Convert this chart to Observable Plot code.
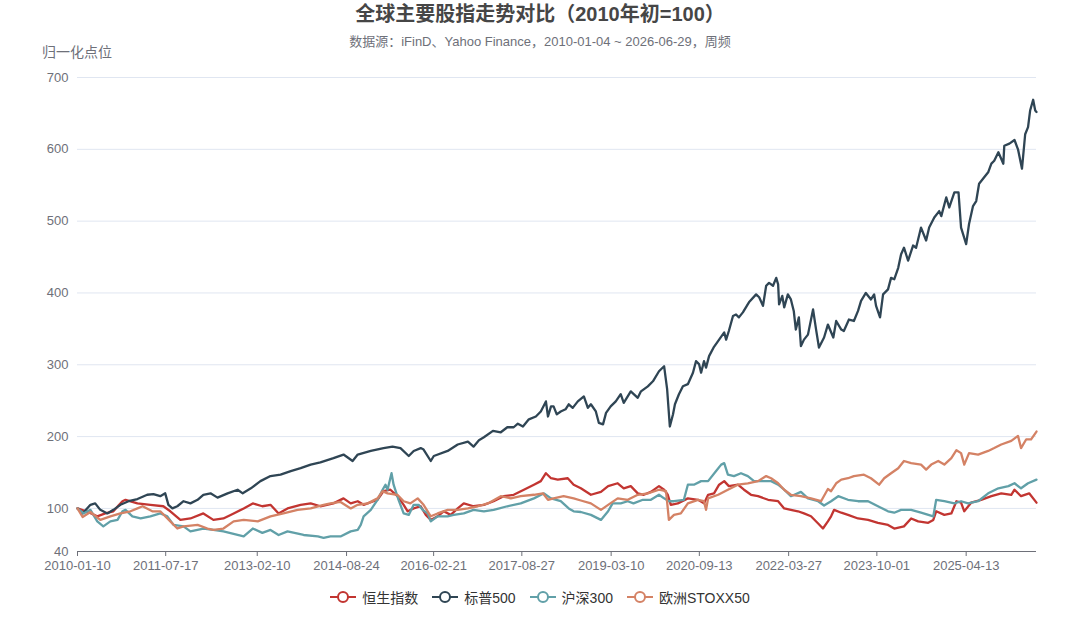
<!DOCTYPE html>
<html>
<head>
<meta charset="utf-8">
<script src="https://cdn.jsdelivr.net/npm/d3@7"></script>
<script src="https://cdn.jsdelivr.net/npm/@observablehq/plot@0.6"></script>
<style>
  html, body { margin: 0; padding: 0; background: #fff; }
  body { width: 1080px; height: 617px; position: relative; overflow: hidden;
         font-family: "Liberation Sans", "Noto Sans CJK SC", sans-serif; }
  #title { position: absolute; left: 0; width: 1080px; top: 1px; text-align: center;
           font-size: 20px; font-weight: bold; color: #464646; line-height: 26px; }
  #subtitle { position: absolute; left: 0; width: 1080px; top: 34px; text-align: center;
              font-size: 13px; color: #6e7079; line-height: 16px; }
  #yname { position: absolute; left: 27px; width: 100px; top: 43px; text-align: center;
           font-size: 14px; color: #6e7079; line-height: 18px; }
  #chart { position: absolute; left: 0; top: 0; }
  #legend { position: absolute; left: 0; width: 1080px; top: 587px; display: flex;
            justify-content: center; align-items: center; gap: 14px; font-size: 14px; color: #333; }
  .item { display: flex; align-items: center; }
  .item svg { margin-right: 6px; }
</style>
</head>
<body>
<div id="chart"></div>
<div id="title"></div>
<div id="subtitle"></div>
<div id="yname"></div>
<div id="legend"></div>
<script>
const titleText = "全球主要股指走势对比（2010年初=100）";
const subtitleText = "数据源：iFinD、Yahoo Finance，2010-01-04 ~ 2026-06-29，周频";
const yAxisName = "归一化点位";

const seriesNames = ["恒生指数", "标普500", "沪深300", "欧洲STOXX50"];
const seriesColors = ["#c23531", "#2f4554", "#61a0a8", "#d48265"];

const xTickLabels = ["2010-01-10","2011-07-17","2013-02-10","2014-08-24","2016-02-21","2017-08-27",
  "2019-03-10","2020-09-13","2022-03-27","2023-10-01","2025-04-13"];
const yTicks = [40, 100, 200, 300, 400, 500, 600, 700];
const xDomain = ["2010-01-10", "2026-06-28"];

const hsi = [
["2010-01-10",100],["2010-03-06",96],["2010-05-14",89],["2010-07-03",93],["2010-08-23",96],
["2010-09-24",104],["2010-10-19",110],["2010-11-07",112],["2011-01-21",107],["2011-04-12",105],
["2011-07-02",103],["2011-08-15",96],["2011-10-17",84],["2011-12-19",86],["2012-03-09",93],
["2012-05-11",84],["2012-07-13",86],["2012-09-15",93],["2012-11-17",100],["2013-01-13",107],
["2013-03-14",103],["2013-05-04",105],["2013-06-24",93],["2013-08-19",100],["2013-11-09",105],
["2014-01-11",107],["2014-03-13",103],["2014-06-03",107],["2014-08-05",114],["2014-09-19",107],
["2014-11-02",110],["2014-12-09",105],["2015-03-06",112],["2015-04-13",124],["2015-05-26",126],
["2015-07-09",117],["2015-08-17",105],["2015-09-11",96],["2015-10-19",100],["2015-12-02",103],
["2016-01-03",91],["2016-02-03",84],["2016-03-17",89],["2016-04-24",96],["2016-06-07",91],
["2016-07-21",100],["2016-08-28",107],["2016-10-28",103],["2017-01-01",105],["2017-03-03",110],
["2017-05-05",117],["2017-07-07",119],["2017-09-09",126],["2017-11-11",133],["2017-12-24",138],
["2018-01-25",149],["2018-02-26",142],["2018-04-09",140],["2018-06-11",142],["2018-07-18",133],
["2018-09-01",128],["2018-11-03",119],["2019-01-05",123],["2019-02-19",131],["2019-04-20",135],
["2019-05-28",128],["2019-07-11",131],["2019-08-24",121],["2019-10-01",119],["2019-11-14",123],
["2020-01-04",131],["2020-02-05",126],["2020-02-28",119],["2020-03-18",105],["2020-05-01",107],
["2020-07-03",114],["2020-09-05",112],["2020-10-12",107],["2020-11-07",119],["2020-12-14",121],
["2021-01-15",133],["2021-02-16",138],["2021-03-17",131],["2021-05-13",133],["2021-06-20",126],
["2021-08-03",119],["2021-09-16",117],["2021-11-18",112],["2022-01-20",110],["2022-02-27",100],
["2022-04-10",98],["2022-05-24",96],["2022-07-01",93],["2022-08-14",89],["2022-09-28",79],
["2022-10-28",72],["2022-11-28",82],["2022-12-18",89],["2023-01-06",98],["2023-02-20",94],
["2023-04-03",91],["2023-06-05",86],["2023-08-07",84],["2023-10-08",80],["2023-12-10",77],
["2024-01-18",72],["2024-03-19",75],["2024-05-03",86],["2024-06-16",82],["2024-08-18",80],
["2024-09-19",84],["2024-10-07",96],["2024-11-27",91],["2025-01-10",93],["2025-02-11",110],
["2025-03-12",108],["2025-04-01",96],["2025-05-14",108],["2025-07-16",112],["2025-09-18",117],
["2025-11-19",121],["2026-01-21",119],["2026-02-10",126],["2026-03-23",117],["2026-05-13",121],
["2026-06-28",108]
];

const spx = [
["2010-01-10",100],["2010-02-11",93],["2010-04-01",105],["2010-05-01",107],["2010-06-02",98],
["2010-07-16",93],["2010-08-23",98],["2010-10-06",105],["2010-11-26",110],["2011-01-21",113],
["2011-03-23",119],["2011-05-01",120],["2011-06-13",117],["2011-07-14",121],["2011-08-03",105],
["2011-08-28",100],["2011-09-28",103],["2011-11-06",110],["2011-12-19",107],["2012-02-02",112],
["2012-03-09",119],["2012-04-23",121],["2012-06-06",115],["2012-08-08",121],["2012-10-10",126],
["2012-11-11",121],["2013-01-01",128],["2013-03-02",138],["2013-05-04",145],["2013-07-06",147],
["2013-09-08",152],["2013-11-09",156],["2014-01-11",161],["2014-03-13",164],["2014-06-03",170],
["2014-08-05",175],["2014-10-01",166],["2014-11-02",175],["2015-01-23",180],["2015-04-13",184],
["2015-06-08",186],["2015-07-28",184],["2015-09-18",173],["2015-10-19",180],["2015-12-02",184],
["2015-12-20",182],["2016-02-03",166],["2016-02-22",173],["2016-05-19",180],["2016-07-21",189],
["2016-09-23",193],["2016-10-28",186],["2016-12-01",195],["2017-01-01",199],["2017-02-27",208],
["2017-04-17",206],["2017-05-28",213],["2017-07-07",213],["2017-08-02",218],["2017-09-03",214],
["2017-10-10",224],["2017-11-23",228],["2017-12-24",235],["2018-01-25",249],["2018-02-07",228],
["2018-02-26",242],["2018-03-14",242],["2018-04-03",231],["2018-04-28",235],["2018-05-28",238],
["2018-06-17",245],["2018-07-12",240],["2018-08-13",249],["2018-09-20",256],["2018-10-15",240],
["2018-11-03",245],["2018-12-04",235],["2018-12-23",219],["2019-01-18",217],["2019-02-06",233],
["2019-03-07",242],["2019-04-08",249],["2019-05-09",259],["2019-05-28",247],["2019-07-11",263],
["2019-08-24",254],["2019-09-13",263],["2019-10-26",270],["2019-11-27",277],["2020-01-04",291],
["2020-02-05",298],["2020-02-24",266],["2020-03-12",214],["2020-04-01",231],["2020-04-13",245],
["2020-05-08",259],["2020-06-02",270],["2020-07-03",273],["2020-08-04",289],["2020-08-23",305],
["2020-09-11",301],["2020-09-24",289],["2020-10-12",305],["2020-10-25",296],["2020-11-13",312],
["2020-12-14",325],["2021-01-15",335],["2021-02-16",345],["2021-02-28",335],["2021-03-17",347],
["2021-04-12",368],["2021-05-01",370],["2021-05-19",366],["2021-06-13",373],["2021-07-21",387],
["2021-09-04",398],["2021-09-23",394],["2021-10-17",382],["2021-11-06",410],["2021-11-24",414],
["2021-12-19",410],["2022-01-08",421],["2022-01-20",412],["2022-01-26",384],["2022-02-15",396],
["2022-02-27",380],["2022-03-22",398],["2022-04-10",391],["2022-04-28",375],["2022-05-11",349],
["2022-05-30",366],["2022-06-12",326],["2022-07-01",335],["2022-07-26",342],["2022-08-27",377],
["2022-09-15",349],["2022-10-03",324],["2022-11-04",338],["2022-11-28",356],["2023-01-01",338],
["2023-01-19",361],["2023-02-20",349],["2023-03-08",347],["2023-04-09",363],["2023-05-10",361],
["2023-06-05",375],["2023-06-24",389],["2023-07-24",400],["2023-08-25",391],["2023-09-14",398],
["2023-09-26",382],["2023-10-21",366],["2023-11-09",398],["2023-12-10",405],["2023-12-29",421],
["2024-01-18",419],["2024-02-12",435],["2024-03-01",454],["2024-03-19",463],["2024-04-14",445],
["2024-05-15",466],["2024-06-03",463],["2024-07-04",491],["2024-08-05",473],["2024-08-24",491],
["2024-09-25",505],["2024-10-26",514],["2024-11-08",507],["2024-12-09",533],["2024-12-28",519],
["2025-01-29",540],["2025-02-24",540],["2025-03-12",491],["2025-04-13",468],["2025-05-01",496],
["2025-05-26",521],["2025-06-15",528],["2025-07-03",552],["2025-08-04",561],["2025-08-29",568],
["2025-09-18",580],["2025-10-06",584],["2025-11-01",596],["2025-12-02",580],["2025-12-08",605],
["2026-01-09",608],["2026-02-10",613],["2026-03-04",600],["2026-03-29",573],["2026-04-18",621],
["2026-05-06",631],["2026-05-19",654],["2026-06-07",669],["2026-06-20",654],["2026-06-28",652]
];

const csi300 = [
["2010-01-10",100],["2010-02-17",93],["2010-04-01",98],["2010-05-14",82],["2010-06-21",75],
["2010-08-04",82],["2010-09-18",84],["2010-10-19",96],["2010-11-07",98],["2010-12-20",89],
["2011-02-10",86],["2011-04-12",89],["2011-06-13",93],["2011-07-27",89],["2011-09-04",77],
["2011-11-06",75],["2011-12-19",68],["2012-03-09",72],["2012-05-11",70],["2012-07-13",68],
["2012-10-10",63],["2012-11-17",61],["2013-01-13",72],["2013-03-14",66],["2013-05-04",70],
["2013-06-24",63],["2013-08-19",68],["2013-11-28",63],["2014-02-25",61],["2014-04-02",59],
["2014-05-15",61],["2014-07-17",61],["2014-09-19",68],["2014-11-02",70],["2014-11-21",77],
["2014-12-09",89],["2015-01-23",98],["2015-03-06",112],["2015-04-07",126],["2015-04-25",133],
["2015-05-08",126],["2015-06-02",149],["2015-06-15",133],["2015-07-16",112],["2015-08-17",93],
["2015-09-18",91],["2015-10-19",105],["2015-11-19",105],["2015-12-14",98],["2016-01-15",93],
["2016-02-03",82],["2016-03-17",89],["2016-05-19",89],["2016-06-26",91],["2016-08-28",93],
["2016-10-28",98],["2017-01-01",96],["2017-03-03",98],["2017-05-28",103],["2017-08-20",107],
["2017-11-11",114],["2018-01-13",121],["2018-02-26",114],["2018-04-28",110],["2018-06-17",100],
["2018-07-18",96],["2018-09-01",95],["2018-11-03",91],["2019-01-05",84],["2019-02-19",96],
["2019-03-19",107],["2019-05-09",107],["2019-06-22",110],["2019-07-28",107],["2019-09-25",112],
["2019-11-14",112],["2020-01-04",119],["2020-02-05",114],["2020-03-06",110],["2020-04-07",110],
["2020-06-08",112],["2020-07-03",133],["2020-08-10",133],["2020-09-24",138],["2020-11-07",138],
["2020-12-27",152],["2021-01-28",161],["2021-02-16",163],["2021-03-11",147],["2021-04-18",145],
["2021-06-01",149],["2021-07-14",145],["2021-08-22",138],["2021-10-05",138],["2021-12-07",138],
["2022-01-20",133],["2022-02-27",126],["2022-04-10",117],["2022-06-12",123],["2022-07-26",114],
["2022-09-28",110],["2022-11-04",104],["2022-12-18",110],["2023-02-01",117],["2023-04-03",112],
["2023-06-05",110],["2023-08-07",110],["2023-10-08",103],["2023-12-10",96],["2024-01-18",94],
["2024-03-01",98],["2024-05-03",98],["2024-07-04",94],["2024-09-19",89],["2024-10-07",112],
["2024-11-27",110],["2025-01-29",107],["2025-03-12",110],["2025-04-25",107],["2025-06-27",110],
["2025-08-29",121],["2025-11-01",128],["2026-01-03",131],["2026-02-10",135],["2026-03-23",128],
["2026-05-06",135],["2026-06-28",140]
];

const stoxx = [
["2010-01-10",100],["2010-02-11",88],["2010-04-01",95],["2010-06-02",84],["2010-08-04",89],
["2010-10-06",93],["2010-12-08",96],["2011-01-21",100],["2011-02-22",103],["2011-04-24",96],
["2011-06-13",96],["2011-08-15",82],["2011-09-28",72],["2011-11-06",75],["2012-02-02",77],
["2012-04-04",72],["2012-05-11",70],["2012-07-13",72],["2012-09-15",82],["2012-11-17",84],
["2013-02-13",82],["2013-05-04",89],["2013-07-24",93],["2013-10-21",98],["2014-01-11",100],
["2014-04-02",105],["2014-05-15",107],["2014-07-17",109],["2014-09-19",100],["2014-11-02",105],
["2015-01-04",107],["2015-03-06",114],["2015-04-07",124],["2015-05-08",121],["2015-07-09",119],
["2015-08-17",110],["2015-09-28",107],["2015-11-13",114],["2015-12-20",105],["2016-02-03",89],
["2016-03-17",93],["2016-05-19",98],["2016-07-21",98],["2016-09-23",100],["2016-11-24",103],
["2017-01-26",107],["2017-04-17",117],["2017-06-19",114],["2017-08-20",117],["2017-11-11",119],
["2018-01-06",121],["2018-02-07",112],["2018-03-14",114],["2018-05-16",117],["2018-07-18",114],
["2018-09-01",111],["2018-11-03",107],["2019-01-05",98],["2019-02-19",105],["2019-04-20",114],
["2019-06-22",112],["2019-08-24",119],["2019-10-26",121],["2020-01-04",126],["2020-02-17",124],
["2020-02-28",100],["2020-03-06",84],["2020-04-07",91],["2020-05-20",93],["2020-07-03",107],
["2020-09-05",112],["2020-10-12",110],["2020-10-25",98],["2020-11-07",114],["2021-01-09",119],
["2021-03-11",126],["2021-05-13",133],["2021-07-14",135],["2021-09-16",138],["2021-11-06",145],
["2021-12-07",142],["2022-01-20",135],["2022-02-27",126],["2022-04-10",119],["2022-06-12",117],
["2022-08-14",114],["2022-10-16",110],["2022-11-28",127],["2022-12-18",124],["2023-01-19",135],
["2023-02-20",140],["2023-04-03",142],["2023-05-10",145],["2023-07-12",147],["2023-08-25",142],
["2023-10-15",133],["2023-11-16",142],["2023-12-29",149],["2024-02-12",156],["2024-03-19",166],
["2024-05-03",163],["2024-07-04",161],["2024-08-05",154],["2024-09-06",161],["2024-10-20",166],
["2024-11-27",161],["2025-01-10",170],["2025-02-11",181],["2025-03-12",177],["2025-04-01",161],
["2025-05-01",177],["2025-06-27",175],["2025-08-29",180],["2025-10-06",184],["2025-11-19",189],
["2026-01-21",194],["2026-03-04",201],["2026-03-23",184],["2026-04-24",196],["2026-05-25",196],
["2026-06-28",207]
];

const parse = d3.utcParse("%Y-%m-%d");
const allSeries = [hsi, spx, csi300, stoxx];
const rows = allSeries.flatMap((s, i) => s.map(([d, v]) => ({date: parse(d), value: v, name: seriesNames[i]})));
const font = '"Liberation Sans", "Noto Sans CJK SC", sans-serif';

const chart = Plot.plot({
  width: 1080,
  height: 586,
  marginTop: 77,
  marginBottom: 35,
  marginLeft: 77,
  marginRight: 44,
  style: {fontFamily: font, fontSize: "13px", color: "#6e7079", background: "#fff"},
  x: {type: "utc", domain: xDomain.map(parse)},
  y: {domain: [40, 700]},
  color: {domain: seriesNames, range: seriesColors},
  marks: [
    Plot.gridY(yTicks.filter(t => t > 40), {stroke: "#e0e6f1", strokeOpacity: 1}),
    Plot.axisY({ticks: yTicks, tickSize: 0, tickPadding: 9, label: null, fontSize: 13, fill: "#6e7079"}),
    Plot.axisX({ticks: xTickLabels.map(parse), tickFormat: d3.utcFormat("%Y-%m-%d"), tickSize: 5,
      tickPadding: 4, label: null, fontSize: 13, fill: "#6e7079", stroke: "#6e7079"}),
    Plot.ruleY([40], {stroke: "#6e7079", strokeWidth: 1}),
    ...seriesNames.map((n, i) => Plot.line(rows.filter(r => r.name === n), {
      x: "date", y: "value", stroke: seriesColors[i], strokeWidth: 2.3, strokeLinejoin: "round"
    }))
  ]
});
document.getElementById("chart").appendChild(chart);

document.getElementById("title").textContent = titleText;
document.getElementById("subtitle").textContent = subtitleText;
document.getElementById("yname").textContent = yAxisName;

const legend = document.getElementById("legend");
seriesNames.forEach((n, i) => {
  const item = document.createElement("div");
  item.className = "item";
  item.innerHTML = `<svg width="26" height="14"><line x1="0" y1="7" x2="26" y2="7" stroke="${seriesColors[i]}" stroke-width="2"/><circle cx="13" cy="7" r="5" fill="#fff" stroke="${seriesColors[i]}" stroke-width="2"/></svg><span>${n}</span>`;
  legend.appendChild(item);
});
</script>
</body>
</html>
